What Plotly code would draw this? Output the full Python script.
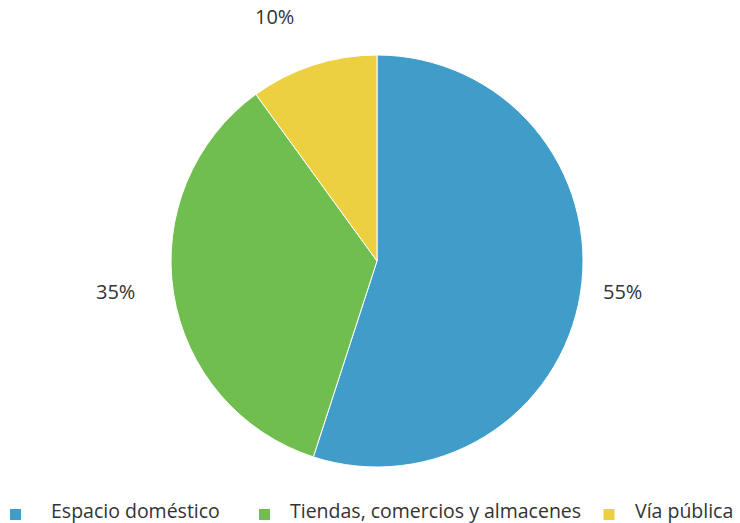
import math
import plotly.graph_objects as go

categories = ["Espacio doméstico", "Tiendas, comercios y almacenes", "Vía pública"]
values = [55, 35, 10]
colors = ["#409CC9", "#70BE50", "#ECD040"]

W, H = 740, 523
ml, mr, mt, mb = 14, 0, 55, 56
FONT = "Open Sans"
TXT = "#333333"

fig = go.Figure(go.Pie(
    labels=categories, values=values, sort=False, direction="clockwise", rotation=0,
    marker=dict(colors=colors, line=dict(color="white", width=1)),
    textinfo="none", hoverinfo="label+percent", domain=dict(x=[0, 1], y=[0, 1]),
    showlegend=False,
))

pw, ph = W - ml - mr, H - mt - mb


def xp(px):
    return (px - ml) / pw


def yp(py):
    return 1 - (py - mt) / ph


# percentage labels computed from the data
cx, cy = ml + pw / 2, mt + ph / 2
r = min(pw, ph) / 2
total = sum(values)
cum = 0
for v in values:
    mid = (cum + v / 2) / total * 2 * math.pi
    cum += v
    dx, dy = math.sin(mid), -math.cos(mid)
    D = r * 1.14
    px, py = cx + D * dx - 8, cy + D * dy - 6
    xa = "left" if dx > 0.3 else ("right" if dx < -0.3 else "center")
    ya = "bottom" if dy < -0.5 else ("top" if dy > 0.5 else "middle")
    fig.add_annotation(
        x=xp(px), y=yp(py), xref="paper", yref="paper",
        text=f"{round(v / total * 100)}%", showarrow=False, xanchor=xa, yanchor=ya,
        font=dict(family=FONT, size=20, color=TXT),
    )

# bottom legend (layout positions of entries, in pixels)
legend_sq_x = [15.5, 264.5, 609]
legend_txt_gap = [29, 19, 19]
sq, ly = 11, 514.5
for name, col, sx, gap in zip(categories, colors, legend_sq_x, legend_txt_gap):
    fig.add_shape(type="rect", xref="paper", yref="paper",
                  x0=xp(sx - sq / 2), x1=xp(sx + sq / 2),
                  y0=yp(ly + sq / 2), y1=yp(ly - sq / 2),
                  fillcolor=col, line=dict(width=0))
    fig.add_annotation(x=xp(sx + sq / 2 + gap), y=yp(ly - 4), xref="paper", yref="paper",
                       text=name, showarrow=False, xanchor="left", yanchor="middle",
                       borderpad=0,
                       font=dict(family=FONT, size=19.5, color=TXT))

fig.update_layout(
    width=W, height=H,
    margin=dict(l=ml, r=mr, t=mt, b=mb, autoexpand=False),
    paper_bgcolor="white", plot_bgcolor="white",
    showlegend=False,
)
fig.write_html("out.html")
